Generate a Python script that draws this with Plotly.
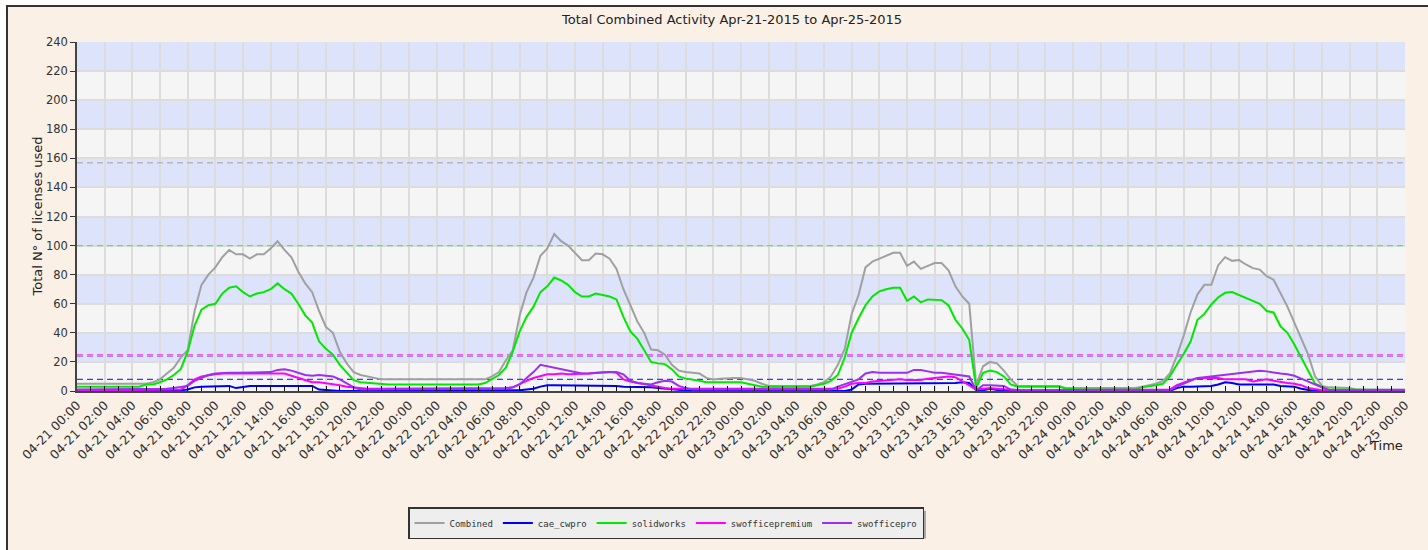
import plotly.graph_objects as go
import pandas as pd

# ---------------- data (half-hour samples, 04-21 00:00 .. 04-25 00:00) ----------------
TITLE = "Total Combined Activity Apr-21-2015 to Apr-25-2015"
series_names = ["Combined", "cae_cwpro", "solidworks", "swofficepremium", "swofficepro"]
license_caps = [157, 8, 100, 25, 24]
x_start = "2015-04-21 00:00"
x_end = "2015-04-25 00:00"

combined_d1 = [5, 5, 5, 5, 5, 5, 5, 5, 5, 5,
               5, 6, 8, 12, 16, 23, 28, 55, 73, 80,
               85, 92, 97, 94, 94, 91, 94, 94, 98, 103,
               97, 92, 82, 74, 68, 55, 44, 40, 27, 19,
               13, 11, 10, 9, 8, 8, 8, 8]
combined_d2 = [8, 8, 8, 8, 8, 8, 8, 8, 8, 8,
               8, 8, 10, 13, 21, 28, 52, 68, 78, 93,
               98, 108, 103, 100, 95, 90, 90, 94.5, 94, 91,
               84, 70, 59, 48, 40, 28.5, 28, 25, 18, 14,
               13, 12.5, 12, 9, 8, 8.5, 9, 9]
combined_d3 = [9, 8, 7, 5, 3.5, 3.5, 3.5, 3.5, 3.5, 3.5,
               3.5, 4.5, 6, 10, 18, 29, 53, 66, 85, 89,
               91, 93, 95, 95, 86, 89, 84, 86, 88, 88,
               83, 72, 65, 60, 4, 17, 20, 19, 14, 8,
               3.5, 3.5, 3.5, 3.5, 3.5, 3.5, 3.5, 2]
combined_d4 = [2, 2, 2, 2, 2, 2, 2, 2, 2, 2,
               3, 4, 5, 7, 12, 24, 38, 54, 66.5, 73,
               73, 86.5, 92, 89.5, 90, 87, 84.5, 83.5, 79, 76.5,
               67.5, 58, 47, 36.5, 25, 10, 3.5, 2.5, 2.5, 2.5,
               2, 1, 1, 1, 1, 1, 1, 1]
combined_end = [1]

cae_d1 = [0, 0, 0, 0, 0, 0, 0, 0, 0, 0,
          0, 0, 0, 0, 0, 0.5, 1, 2.5, 3, 3,
          3.5, 3.5, 3.5, 2, 3, 3.5, 3.5, 3.5, 3.5, 3.5,
          4, 4, 4, 4, 3.5, 1, 0.5, 0, 0, 0,
          0, 0, 0, 0, 0, 0, 0, 0]
cae_d2 = [0, 0, 0, 0, 0, 0, 0, 0, 0, 0,
          0, 0, 0, 0, 0, 0, 0.5, 1, 1.5, 3,
          4, 4, 4, 4, 4, 4, 4, 4, 4, 4,
          3.5, 3, 3, 3, 3, 2.5, 2, 1.5, 1, 0.5,
          0, 0, 0, 0, 0, 0, 0, 0]
cae_d3 = [0, 0, 0, 0, 0, 0, 0, 0, 0, 0,
          0, 0, 0, 0, 0, 0, 1, 4.5, 5, 5,
          5, 5, 5, 5, 5, 5, 5, 5, 5, 5,
          5, 5.5, 6, 5.5, 0.5, 0.5, 1.5, 0.5, 0, 0,
          0, 0, 0, 0, 0, 0, 0, 0]
cae_d4 = [0, 0, 0, 0, 0, 0, 0, 0, 0, 0,
          0, 0, 0, 0, 0, 2, 3, 3, 3, 3,
          3.5, 4.5, 6, 5.5, 4.5, 4.5, 4.5, 4.5, 4.5, 4.5,
          3.5, 3, 3, 1.5, 0.5, 0, 0, 0, 0, 0,
          0, 0, 0, 0, 0, 0, 0, 0]
cae_end = [0]

solid_d1 = [3, 3, 3, 3, 3, 3, 3, 3, 3, 3,
            4.5, 4.5, 6, 8, 11, 15, 27, 45, 56, 59,
            60, 67, 71, 72, 68, 65, 67, 68, 70, 74,
            70, 67, 60, 52, 47, 34, 29, 25, 18, 12.5,
            7.5, 6, 5.5, 5, 4.5, 4.5, 4.5, 4.5]
solid_d2 = [4.5, 4.5, 4.5, 4.5, 4.5, 4.5, 4.5, 4.5, 4.5, 4.5,
            4.5, 5.5, 8, 11, 16, 27, 41, 51, 58, 68,
            72, 78, 76, 73, 68, 65, 65, 67, 66, 65,
            63, 51, 41, 36, 28, 20, 19, 18.5, 15, 10,
            8.5, 8, 7, 6, 6, 6, 6, 5.5]
solid_d3 = [6, 5, 4, 3, 3, 3, 3, 3, 3, 3,
            3, 4, 5, 7, 11, 23, 40, 50, 59, 65,
            68.5, 70, 71, 71, 62, 65, 61, 63, 62.5, 62.5,
            59, 49, 43, 35, 2, 12.5, 14, 13, 10, 4.5,
            3, 3, 3, 3, 3, 3, 3, 1.5]
solid_d4 = [1, 1, 1, 1, 1, 1, 1, 1, 1, 1,
            2.5, 3, 4, 5, 10, 18, 25.5, 34, 49, 53,
            59.5, 64.5, 67.5, 68, 66, 63.5, 62, 60, 55, 54,
            44.5, 40, 32, 23, 14, 5, 3, 1, 1, 1,
            0.5, 0.5, 0.5, 0.5, 0.5, 0.5, 0.5, 0.5]
solid_end = [0.5]

prem_d1 = [0.5, 0.5, 0.5, 0.5, 0.5, 0.5, 0.5, 0.5, 0.5, 0.5,
           0.5, 0.5, 0.5, 0.5, 0.5, 1, 4, 8, 10, 11,
           11.5, 12, 12, 12, 12, 12.5, 12.5, 12.5, 12.5, 12.5,
           12, 10.5, 9, 7.5, 6, 6, 5.5, 5, 4, 3,
           2.5, 1.5, 1.5, 1.5, 1.5, 1.5, 1.5, 1.5]
prem_d2 = [1.5, 1.5, 1.5, 1.5, 1.5, 1.5, 1.5, 1.5, 1.5, 1.5,
           1.5, 1.5, 1.5, 1.5, 2, 2.5, 5, 7, 9, 10.5,
           11.5, 11.5, 12, 11.5, 11.5, 11.5, 12, 12.5, 13, 13,
           12.5, 8, 6.5, 5.5, 4.5, 4, 3, 2, 1.5, 1.5,
           1.5, 1.5, 1.5, 1.5, 1.5, 1.5, 1.5, 1.5]
prem_d3 = [1.5, 1.5, 1, 1, 1, 1, 1, 1, 1, 1,
           1, 1, 1, 1, 1.5, 3, 5, 5.5, 5.5, 6.5,
           7, 7.5, 8, 8, 7.5, 7.5, 7.5, 8.5, 9, 10,
           10, 9.5, 6.5, 3.5, 1, 1.5, 2, 1.5, 1, 0.5,
           0.5, 0.5, 0.5, 0.5, 0.5, 0.5, 0.5, 0.5]
prem_d4 = [0.5, 0.5, 0.5, 0.5, 0.5, 0.5, 0.5, 0.5, 0.5, 0.5,
           0.5, 0.5, 0.5, 0.5, 1, 4, 6, 7.5, 9, 9,
           9, 9, 8, 8, 8, 8, 6.5, 7.5, 8, 7,
           6, 5.5, 5, 4, 2, 1, 0.5, 0.5, 0.5, 0.5,
           0.5, 0.5, 0.5, 0.5, 0.5, 0.5, 0.5, 0.5]
prem_end = [0.5]

pro_d1 = [1, 1, 1, 1, 1, 1, 1, 1, 1, 1,
          1, 1, 1, 1.5, 2, 2.5, 3.5, 7, 9, 11,
          12, 12.5, 12.5, 12.5, 12.5, 12.5, 13, 13, 13, 14.5,
          15, 14, 12.5, 11, 10.5, 11, 10.5, 10, 8, 5,
          2.5, 1, 1, 1, 1, 1, 1, 1]
pro_d2 = [1, 1, 1, 1, 1, 1, 1, 1, 1, 1,
          1, 1, 1, 1, 1.5, 2.5, 4.5, 9, 13, 18,
          17, 16, 15, 13.5, 12.5, 12, 12, 12.5, 13, 13,
          13, 11.5, 7, 5.5, 5, 4.5, 6, 7, 6.5, 3.5,
          2, 1, 1, 1, 1, 1, 1, 1]
pro_d3 = [1, 1, 1, 1, 1, 1, 1, 1, 1, 1,
          1, 1, 1, 1, 3, 4.5, 6, 8, 12, 13,
          12.5, 12.5, 12.5, 12.5, 12.5, 14.5, 14.5, 13.5, 12.5, 12.5,
          12, 11, 11, 10, 0.5, 4, 4, 4, 3.5, 1,
          0.5, 0.5, 0.5, 0.5, 0.5, 0.5, 0.5, 0.5]
pro_d4 = [0.5, 0.5, 0.5, 0.5, 0.5, 0.5, 0.5, 0.5, 0.5, 0.5,
          0.5, 0.5, 0.5, 0.5, 0.5, 3, 5, 7.5, 9, 9.5,
          10, 11, 11.5, 11.5, 12.5, 13, 13.5, 14, 13.5, 12.5,
          12, 11.5, 10.5, 8.5, 6.5, 4.5, 2, 0.5, 0.5, 0.5,
          0.5, 0.5, 0.5, 0.5, 0.5, 0.5, 0.5, 0.5]
pro_end = [0.5]

# ---------------- assemble ----------------
times = pd.date_range(x_start, x_end, freq="30min")
combined = combined_d1 + combined_d2 + combined_d3 + combined_d4 + combined_end
cae = cae_d1 + cae_d2 + cae_d3 + cae_d4 + cae_end
solid = solid_d1 + solid_d2 + solid_d3 + solid_d4 + solid_end
prem = prem_d1 + prem_d2 + prem_d3 + prem_d4 + prem_end
pro = pro_d1 + pro_d2 + pro_d3 + pro_d4 + pro_end
values = [combined, cae, solid, prem, pro]

line_colors = ["#A0A0A0", "#0000F0", "#00E800", "#FF00FF", "#9B30F0"]
cap_colors = ["#B8B8B8", "#3A3AFF", "#55EE55", "#F060F0", "#A060F0"]

# ---------------- layout geometry (pixels) ----------------
W, H = 1428, 550
ML, MR, MT, MB = 77, 23, 42, 158
PW, PH = W - ML - MR, H - MT - MB


def px_x(px):
    return (px - ML) / PW


def px_y(py):
    return (H - MB - py) / PH


FONT = "DejaVu Sans"

fig = go.Figure()

# dashed license caps
for name, cap, col in zip(series_names, license_caps, cap_colors):
    fig.add_trace(go.Scatter(
        x=[times[0], times[-1]], y=[cap, cap], mode="lines",
        line=dict(color=col, width=1.4, dash="6px,4px"),
        showlegend=False, hoverinfo="skip"))

for name, vals, col in zip(series_names, values, line_colors):
    fig.add_trace(go.Scatter(
        x=times, y=vals, mode="lines", name=name,
        line=dict(color=col, width=2, shape="linear")))

shapes = []
# outer linen frame
shapes.append(dict(type="rect", xref="paper", yref="paper", layer="below",
                   x0=px_x(7), x1=px_x(1445), y0=px_y(570), y1=px_y(6),
                   fillcolor="#FAF0E6", line=dict(color="#333333", width=2)))
# plot area background
shapes.append(dict(type="rect", xref="paper", yref="paper", layer="below",
                   x0=0, x1=1, y0=0, y1=1, fillcolor="#F5F5F5", line=dict(width=0)))
# alternating bands
for y0 in range(20, 240, 40):
    shapes.append(dict(type="rect", xref="paper", yref="y", layer="below",
                       x0=0, x1=1, y0=y0, y1=y0 + 20,
                       fillcolor="#DCE3FB", line=dict(width=0)))
# legend shadow
shapes.append(dict(type="rect", xref="paper", yref="paper", layer="below",
                   x0=px_x(412), x1=px_x(926), y0=px_y(540), y1=px_y(512),
                   fillcolor="#A8A8A8", line=dict(width=0)))

annotations = [
    dict(text=TITLE, xref="paper", yref="paper", x=px_x(731), y=px_y(19),
         xanchor="center", yanchor="middle", showarrow=False,
         font=dict(family=FONT, size=13, color="#222222")),
    dict(text="Total N° of licenses used", xref="paper", yref="paper",
         x=px_x(37), y=0.5, textangle=-90, xanchor="center", yanchor="middle",
         showarrow=False, font=dict(family=FONT, size=13, color="#222222")),
    dict(text="Time", xref="paper", yref="paper", x=1.0, y=px_y(447),
         xanchor="right", yanchor="middle", showarrow=False,
         font=dict(family=FONT, size=13, color="#222222")),
]

fig.update_layout(
    width=W, height=H,
    margin=dict(l=ML, r=MR, t=MT, b=MB, pad=0),
    paper_bgcolor="#FFFFFF",
    plot_bgcolor="rgba(0,0,0,0)",
    shapes=shapes,
    annotations=annotations,
    showlegend=True,
    legend=dict(orientation="h", x=px_x(666), xanchor="center",
                y=px_y(523), yanchor="middle",
                bgcolor="#EEEEEE", bordercolor="#333333", borderwidth=1.5,
                font=dict(family="DejaVu Sans Mono", size=9, color="#333333"),
                itemwidth=30, tracegroupgap=0),
    xaxis=dict(
        type="date", range=[x_start, x_end],
        tick0=x_start, dtick=7200000, tickformat="%m-%d %H:%M",
        tickangle=-45, ticks="inside", ticklen=5, tickcolor="#111111", tickwidth=1,
        tickfont=dict(family=FONT, size=12.5, color="#333333"),
        showgrid=True, gridcolor="#DCDCDC", gridwidth=1.5,
        showline=True, linecolor="#444444", linewidth=2,
        minor=dict(dtick=3600000, ticks="inside", ticklen=5, tickcolor="#111111",
                   tickwidth=1, showgrid=False),
        zeroline=False, fixedrange=True),
    yaxis=dict(
        range=[0, 240], dtick=20, tick0=0,
        ticks="outside", ticklen=5, tickcolor="#333333",
        tickfont=dict(family=FONT, size=11.5, color="#333333"),
        showgrid=True, gridcolor="#DCDCDC", gridwidth=1.5,
        showline=True, linecolor="#444444", linewidth=1.5,
        zeroline=False, fixedrange=True),
    hovermode=False,
)

fig.write_html("out.html", config={"displayModeBar": False},
               post_script="document.body.style.margin='0px';")
